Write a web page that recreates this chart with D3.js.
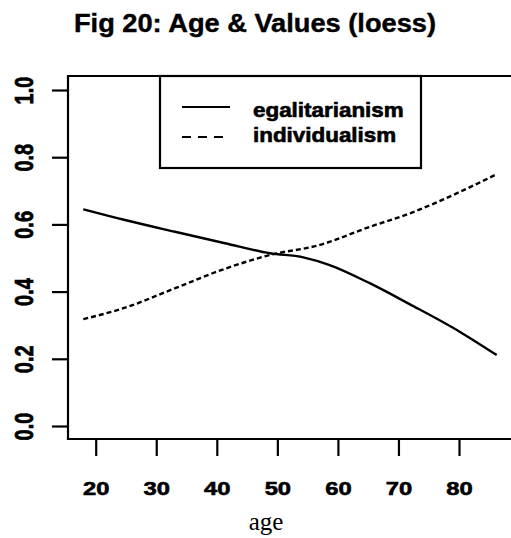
<!DOCTYPE html>
<html>
<head>
<meta charset="utf-8">
<script src="https://cdn.jsdelivr.net/npm/d3@7"></script>
<style>
	body { margin: 0; background: white; }
	svg { display: block; }
	.heavy { font-family: "Liberation Sans", Arial, sans-serif; font-weight: bold; stroke: black; stroke-width: 0.6px; }
</style>
</head>
<body>
<script>
// data
var ages = [17.95, 24.84, 33.10, 41.35, 48.79, 54.28, 58.64, 65.25, 71.91, 80.17, 86.23]
var egalitarianism = [0.645, 0.613, 0.578, 0.544, 0.514, 0.502, 0.479, 0.425, 0.362, 0.280, 0.211]
var agesInd = [17.95, 24.84, 33.10, 41.35, 48.79, 57.04, 65.30, 71.91, 80.17, 85.95]
var individualism = [0.318, 0.352, 0.410, 0.468, 0.509, 0.539, 0.593, 0.633, 0.697, 0.747]
var xTicks = [20, 30, 40, 50, 60, 70, 80]
var yTicks = [0, 0.2, 0.4, 0.6, 0.8, 1.0]
var seriesNames = ["egalitarianism", "individualism"]

var w = 511
var h = 538

var svg = d3.select("body")
	.append("svg")
	.attr("width", w)
	.attr("height", h)

// Scales
var xScale = d3.scaleLinear().domain([20, 80]).range([95.7, 459])
var yScale = d3.scaleLinear().domain([0, 1]).range([426, 90])

// title
svg.append("text")
	.attr("class", "heavy")
	.attr("transform", "translate(255,32) scale(1.09,1)")
	.attr("text-anchor", "middle")
	.style("font-size", "25px")
	.style("stroke-width", "0.4px")
	.text("Fig 20: Age & Values (loess)")

// frame (right side runs off the picture)
svg.append("path")
	.attr("d", "M520,76 H68 V439 H520")
	.attr("fill", "none")
	.attr("stroke", "black")
	.attr("stroke-width", 2.2)

// Axes
var xAxis = d3.axisBottom(xScale).tickValues(xTicks).tickSize(17).tickFormat(d3.format("d"))
var yAxis = d3.axisLeft(yScale).tickValues(yTicks).tickSize(16).tickFormat(d3.format(".1f"))

var gx = svg.append("g")
	.attr("transform", "translate(0,439)")
	.call(xAxis)
gx.select(".domain").remove()
gx.selectAll("line").attr("stroke-width", 2.2)
gx.selectAll("text")
	.attr("class", "heavy")
	.attr("y", 0)
	.attr("dy", 0)
	.attr("transform", "translate(0,56) scale(1.25,1)")
	.style("font-size", "19px")
	.attr("fill", "black")

var gy = svg.append("g")
	.attr("transform", "translate(68,0)")
	.call(yAxis)
gy.select(".domain").remove()
gy.selectAll("line").attr("stroke-width", 2.2)
gy.selectAll("text")
	.attr("class", "heavy")
	.attr("x", 0)
	.attr("dy", 0)
	.attr("text-anchor", "middle")
	.attr("transform", "translate(-35,0) scale(1.3,1) rotate(-90)")
	.style("font-size", "20px")
	.attr("fill", "black")

// x label
svg.append("text")
	.attr("x", 266)
	.attr("y", 530)
	.attr("text-anchor", "middle")
	.style("font-family", "Liberation Serif, Times New Roman, serif")
	.style("font-size", "25px")
	.text("age")

// curves
var line = d3.line()
	.x((d) => xScale(d[0]))
	.y((d) => yScale(d[1]))
	.curve(d3.curveMonotoneX)

svg.append("path")
	.datum(d3.zip(ages, egalitarianism))
	.attr("d", line)
	.attr("fill", "none")
	.attr("stroke", "black")
	.attr("stroke-width", 2.4)

svg.append("path")
	.datum(d3.zip(agesInd, individualism))
	.attr("d", line)
	.attr("fill", "none")
	.attr("stroke", "black")
	.attr("stroke-width", 2.4)
	.attr("stroke-dasharray", "5,3")

// legend
var legend = svg.append("g")

legend.append("rect")
	.attr("x", 160)
	.attr("y", 76)
	.attr("width", 261)
	.attr("height", 92)
	.attr("fill", "white")
	.attr("stroke", "black")
	.attr("stroke-width", 2.2)

legend.selectAll("legendLines")
	.data(seriesNames)
	.enter()
	.append("line")
	.attr("x1", 182)
	.attr("x2", 230)
	.attr("y1", (d, i) => 107 + i * 30)
	.attr("y2", (d, i) => 107 + i * 30)
	.attr("stroke", "black")
	.attr("stroke-width", 2)
	.attr("stroke-dasharray", (d, i) => i == 0 ? null : "9,7")

legend.selectAll("legendLabels")
	.data(seriesNames)
	.enter()
	.append("text")
	.attr("class", "heavy")
	.attr("transform", (d, i) => "translate(253," + (117 + i * 24.5) + ") scale(1.15,1)")
	.style("font-size", "19.5px")
	.text((d) => d)
</script>
</body>
</html>
